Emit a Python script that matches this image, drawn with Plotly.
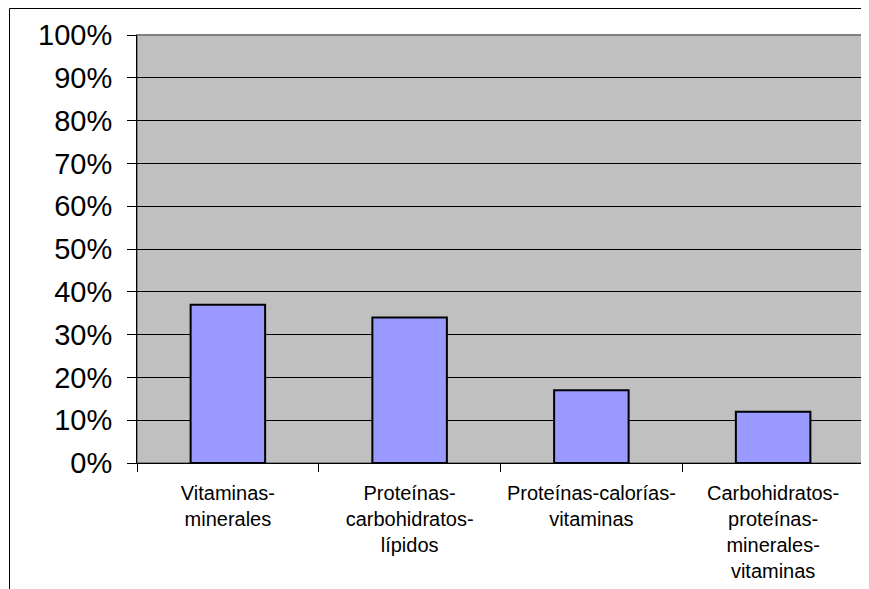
import plotly.graph_objects as go

# Datos del grafico (porcentaje de respuestas por combinacion de nutrientes)
categorias = [
    "Vitaminas-minerales",
    "Proteínas-carbohidratos-lípidos",
    "Proteínas-calorías-vitaminas",
    "Carbohidratos-proteínas-minerales-vitaminas",
]
etiquetas = [
    "Vitaminas-<br>minerales",
    "Proteínas-<br>carbohidratos-<br>lípidos",
    "Proteínas-calorías-<br>vitaminas",
    "Carbohidratos-<br>proteínas-<br>minerales-<br>vitaminas",
]
valores = [0.37, 0.34, 0.17, 0.12]
ticks_y = [0.0, 0.1, 0.2, 0.3, 0.4, 0.5, 0.6, 0.7, 0.8, 0.9, 1.0]

FUENTE = "Arial, 'Liberation Sans', sans-serif"
# La pagina deja 8 px de margen en el body: se compensa aqui.
DESPLAZ = 8
ANCHO, ALTO = 869 - DESPLAZ, 589 - DESPLAZ
MARGEN = {"l": 137 - DESPLAZ, "r": 5, "t": 35 - DESPLAZ, "b": 126}
ancho_plot = ANCHO - MARGEN["l"] - MARGEN["r"]
alto_plot = ALTO - MARGEN["t"] - MARGEN["b"]


def px_a_papel_x(px: float) -> float:
    return (px - DESPLAZ - MARGEN["l"]) / ancho_plot


def px_a_papel_y(py: float) -> float:
    return (ALTO + DESPLAZ - MARGEN["b"] - py) / alto_plot


fig = go.Figure(
    go.Bar(
        x=categorias,
        y=valores,
        marker={"color": "#9999FF", "line": {"color": "#000000", "width": 2}},
        hovertemplate="%{x}: %{y:.0%}<extra></extra>",
    )
)

# Borde del area del grafico (gris, arriba y derecha) y marco exterior.
fig.add_shape(
    type="rect", xref="paper", yref="paper", x0=0, x1=1, y0=0, y1=1,
    line={"color": "#808080", "width": 2}, layer="below",
)
izq, arriba = px_a_papel_x(9.5), px_a_papel_y(8.5)
fig.add_shape(
    type="line", xref="paper", yref="paper",
    x0=izq, x1=izq, y0=arriba, y1=px_a_papel_y(600),
    line={"color": "#000000", "width": 1},
)
fig.add_shape(
    type="line", xref="paper", yref="paper",
    x0=izq, x1=px_a_papel_x(880), y0=arriba, y1=arriba,
    line={"color": "#000000", "width": 1},
)

fig.update_layout(
    width=ANCHO,
    height=ALTO,
    margin=MARGEN,
    paper_bgcolor="#FFFFFF",
    plot_bgcolor="#C0C0C0",
    bargap=0.59,
    showlegend=False,
    font={"family": FUENTE, "color": "#000000"},
)
fig.update_xaxes(
    type="category",
    tickvals=categorias,
    ticktext=etiquetas,
    tickson="boundaries",
    ticks="outside",
    ticklen=8,
    tickcolor="#000000",
    showline=True,
    linecolor="#000000",
    linewidth=1,
    showgrid=False,
    tickfont={"size": 20},
    tickangle=0,
    ticklabelstandoff=12,
)
fig.update_yaxes(
    range=[0, 1],
    tickvals=ticks_y,
    tickformat=".0%",
    ticks="outside",
    ticklen=9,
    tickcolor="#000000",
    showline=True,
    linecolor="#000000",
    linewidth=1,
    showgrid=True,
    gridcolor="#000000",
    gridwidth=1,
    zeroline=False,
    tickfont={"size": 29},
    ticklabelstandoff=9,
)

fig.write_html("out.html")
